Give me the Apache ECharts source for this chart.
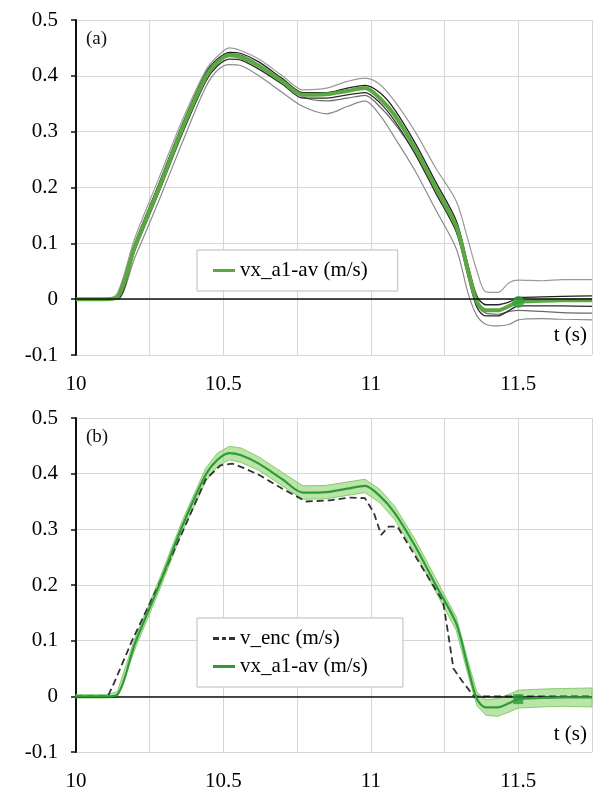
<!DOCTYPE html>
<html>
<head>
<meta charset="utf-8">
<script src="https://cdn.jsdelivr.net/npm/echarts@6/dist/echarts.min.js"></script>
<style>
html,body{margin:0;padding:0;background:#fff;}
#c{width:597px;height:807px;}
</style>
</head>
<body>
<div id="c"></div>
<script>
// ---- data ----
var timeA = [10.0, 10.1, 10.14, 10.2, 10.28, 10.36, 10.44, 10.48, 10.52, 10.56, 10.62, 10.7, 10.77, 10.85, 10.92, 10.98, 11.03, 11.08, 11.15, 11.22, 11.29, 11.33, 11.36, 11.39, 11.43, 11.47, 11.5, 11.58, 11.65, 11.75];
var vxAv   = [0, 0, 0.003, 0.095, 0.197, 0.305, 0.398, 0.425, 0.437, 0.433, 0.418, 0.39, 0.366, 0.367, 0.373, 0.378, 0.36, 0.33, 0.27, 0.2, 0.13, 0.05, -0.005, -0.02, -0.02, -0.012, -0.005, -0.003, -0.002, -0.002];
var traceUp  = [0, 0, 0.01, 0.11, 0.215, 0.32, 0.41, 0.435, 0.45, 0.445, 0.43, 0.4, 0.375, 0.378, 0.39, 0.396, 0.385, 0.355, 0.3, 0.235, 0.175, 0.105, 0.05, 0.013, 0.012, 0.03, 0.034, 0.033, 0.035, 0.035];
var traceLow = [0, 0, 0, 0.075, 0.175, 0.28, 0.38, 0.41, 0.42, 0.418, 0.4, 0.37, 0.345, 0.332, 0.345, 0.355, 0.33, 0.29, 0.23, 0.16, 0.09, 0.01, -0.03, -0.045, -0.048, -0.045, -0.037, -0.035, -0.036, -0.037];
var traceD1  = [0, 0, 0.005, 0.1, 0.205, 0.312, 0.405, 0.43, 0.442, 0.44, 0.425, 0.395, 0.37, 0.37, 0.378, 0.383, 0.37, 0.34, 0.28, 0.21, 0.14, 0.06, 0.005, -0.01, -0.01, -0.005, 0.003, 0.004, 0.005, 0.006];
var traceD2  = [0, 0, 0, 0.088, 0.19, 0.296, 0.39, 0.418, 0.43, 0.428, 0.412, 0.385, 0.36, 0.36, 0.366, 0.37, 0.352, 0.32, 0.26, 0.19, 0.12, 0.04, -0.015, -0.03, -0.03, -0.02, -0.012, -0.012, -0.012, -0.013];
var traceG3  = [0, 0, 0.002, 0.092, 0.2, 0.302, 0.395, 0.422, 0.44, 0.437, 0.42, 0.388, 0.362, 0.355, 0.36, 0.365, 0.345, 0.315, 0.262, 0.195, 0.125, 0.045, -0.01, -0.025, -0.027, -0.022, -0.02, -0.022, -0.024, -0.025];
var bandHigh = [0.003, 0.003, 0.008, 0.105, 0.207, 0.315, 0.41, 0.437, 0.449, 0.446, 0.43, 0.402, 0.378, 0.379, 0.385, 0.39, 0.372, 0.342, 0.282, 0.212, 0.142, 0.062, 0.007, -0.006, -0.004, 0.004, 0.011, 0.013, 0.014, 0.015];
var bandLow  = [-0.003, -0.003, -0.002, 0.085, 0.187, 0.295, 0.386, 0.413, 0.425, 0.42, 0.406, 0.378, 0.354, 0.355, 0.361, 0.366, 0.348, 0.318, 0.258, 0.188, 0.118, 0.038, -0.017, -0.034, -0.036, -0.028, -0.021, -0.019, -0.018, -0.019];
var timeEnc = [10.0, 10.108, 10.13, 10.19, 10.28, 10.365, 10.44, 10.49, 10.53, 10.57, 10.62, 10.7, 10.78, 10.86, 10.93, 10.98, 11.01, 11.035, 11.06, 11.09, 11.17, 11.245, 11.26, 11.28, 11.31, 11.35, 11.75];
var vEnc    = [0, 0, 0.025, 0.1, 0.2, 0.3, 0.39, 0.415, 0.418, 0.41, 0.398, 0.373, 0.35, 0.352, 0.357, 0.356, 0.33, 0.29, 0.305, 0.305, 0.235, 0.17, 0.12, 0.05, 0.027, 0, 0];
var markerT = 11.5;
var xTicks = [10, 10.5, 11, 11.5];
var panelLabels = ['(a)', '(b)'];
var nameAv = 'vx_a1-av (m/s)';
var nameEnc = 'v_enc (m/s)';

function zip(t, v) { return t.map(function (x, i) { return [x, v[i]]; }); }
var mIdx = timeA.indexOf(markerT);

var FONT = 'Liberation Serif';

function mkX(idx) {
  return {
    type: 'value', gridIndex: idx, min: 10, max: 11.75, interval: 0.25,
    axisLine: { show: false, onZero: false },
    axisTick: { show: false },
    splitLine: { show: true, lineStyle: { color: '#d6d6d6', width: 1 } },
    axisLabel: {
      margin: 19, color: '#000', fontFamily: FONT, fontSize: 21,
      showMaxLabel: false,
      formatter: function (v) {
        for (var i = 0; i < xTicks.length; i++) if (Math.abs(xTicks[i] - v) < 1e-6) return String(xTicks[i]);
        return '';
      }
    }
  };
}
function mkY(idx) {
  return {
    type: 'value', gridIndex: idx, min: -0.1, max: 0.5, interval: 0.1,
    axisLine: { show: true, onZero: false, lineStyle: { color: '#111', width: 2 } },
    axisTick: { show: true, inside: false, length: 5, lineStyle: { color: '#111', width: 1.5 } },
    splitLine: { show: true, lineStyle: { color: '#d6d6d6', width: 1 } },
    axisLabel: {
      margin: 18, color: '#000', fontFamily: FONT, fontSize: 21,
      formatter: function (v) { return String(Math.round(v * 10) / 10); }
    }
  };
}
function zeroLine() {
  return {
    silent: true, symbol: 'none', label: { show: false },
    lineStyle: { color: '#111', width: 1.5, type: 'solid' },
    data: [{ yAxis: 0 }]
  };
}
function grey(data, color, w, z) {
  return {
    type: 'line', xAxisIndex: 0, yAxisIndex: 0, data: zip(timeA, data),
    symbol: 'none', smooth: 0.3, lineStyle: { color: color, width: w }, z: z, silent: true
  };
}

var iconLine = 'path://M0,0 L22,0 L22,3 L0,3 Z';
var iconDash = 'path://M0,0 L6,0 L6,3 L0,3 Z M9,0 L13,0 L13,3 L9,3 Z M16,0 L22,0 L22,3 L16,3 Z';

var option = {
  animation: false,
  backgroundColor: '#fff',
  grid: [
    { left: 76, top: 20, width: 516, height: 335 },
    { left: 76, top: 418, width: 516, height: 334 }
  ],
  xAxis: [mkX(0), mkX(1)],
  yAxis: [mkY(0), mkY(1)],
  legend: [
    {
      data: [{ name: nameAv, icon: iconLine }], left: 197, top: 250, orient: 'vertical',
      backgroundColor: '#fff', borderColor: '#bbb', borderWidth: 1,
      padding: [10, 30, 10, 16], itemWidth: 22, itemHeight: 4, itemGap: 4,
      textStyle: { fontFamily: FONT, fontSize: 21, color: '#000' }
    },
    {
      data: [{ name: nameEnc, icon: iconDash }, { name: nameAv + ' ', icon: iconLine }], left: 197, top: 618, orient: 'vertical',
      backgroundColor: '#fff', borderColor: '#bbb', borderWidth: 1,
      padding: [10, 30, 10, 16], itemWidth: 22, itemHeight: 4, itemGap: 7,
      textStyle: { fontFamily: FONT, fontSize: 21, color: '#000' }
    }
  ],
  graphic: [
    { type: 'text', left: 86, top: 30, style: { text: panelLabels[0], font: '19px "Liberation Serif"', fill: '#111' } },
    { type: 'text', left: 86, top: 428, style: { text: panelLabels[1], font: '19px "Liberation Serif"', fill: '#111' } },
    { type: 'text', right: 10, top: 325, style: { text: 't (s)', font: '21px "Liberation Serif"', fill: '#000' } },
    { type: 'text', right: 10, top: 724, style: { text: 't (s)', font: '21px "Liberation Serif"', fill: '#000' } }
  ],
  series: [
    // panel (a)
    grey(traceUp, '#9a9a9a', 1.2, 2),
    grey(traceLow, '#8a8a8a', 1.2, 2),
    grey(traceG3, '#6a6a6a', 1.2, 3),
    grey(traceD2, '#2a2a2a', 1.3, 3),
    grey(traceD1, '#222', 1.3, 3),
    {
      name: nameAv, type: 'line', xAxisIndex: 0, yAxisIndex: 0, data: zip(timeA, vxAv),
      symbol: 'none', smooth: 0.3, lineStyle: { color: '#5aa83f', width: 4 }, itemStyle: { color: '#5aa83f' }, z: 4,
      markLine: zeroLine()
    },
    {
      type: 'scatter', xAxisIndex: 0, yAxisIndex: 0, data: [[timeA[mIdx], vxAv[mIdx]]],
      symbol: 'circle', symbolSize: 12, itemStyle: { color: '#2fa33a' }, z: 6, silent: true
    },
    // panel (b)
    {
      type: 'custom', xAxisIndex: 1, yAxisIndex: 1, silent: true, z: 2,
      data: timeA.map(function (t, i) { return [t, bandLow[i], bandHigh[i]]; }),
      encode: { x: 0, y: [1, 2] },
      renderItem: function (params, api) {
        if (params.dataIndex !== 0) return null;
        var upper = [], lower = [];
        for (var i = 0; i < timeA.length; i++) {
          upper.push(api.coord([timeA[i], bandHigh[i]]));
          lower.push(api.coord([timeA[i], bandLow[i]]));
        }
        var pts = upper.concat(lower.reverse());
        return {
          type: 'polygon',
          shape: { points: pts },
          style: { fill: 'rgba(140,210,110,0.6)', stroke: '#86cc6e', lineWidth: 1, lineJoin: 'round' }
        };
      },
      markLine: zeroLine()
    },
    {
      name: nameEnc, type: 'line', xAxisIndex: 1, yAxisIndex: 1, data: zip(timeEnc, vEnc),
      symbol: 'none', lineStyle: { color: '#333', width: 1.8, type: [7, 4] }, itemStyle: { color: '#333' }, z: 4
    },
    {
      name: nameAv + ' ', type: 'line', xAxisIndex: 1, yAxisIndex: 1, data: zip(timeA, vxAv),
      symbol: 'none', smooth: 0.3, lineStyle: { color: '#2e9a3a', width: 2.2 }, itemStyle: { color: '#2e9a3a' }, z: 5
    },
    {
      type: 'scatter', xAxisIndex: 1, yAxisIndex: 1, data: [[timeA[mIdx], vxAv[mIdx]]],
      symbol: 'rect', symbolSize: 10, itemStyle: { color: '#2a9a3a' }, z: 6, silent: true
    }
  ]
};

var chart = echarts.init(document.getElementById('c'), null, { renderer: 'canvas' });
chart.setOption(option);
</script>
</body>
</html>
